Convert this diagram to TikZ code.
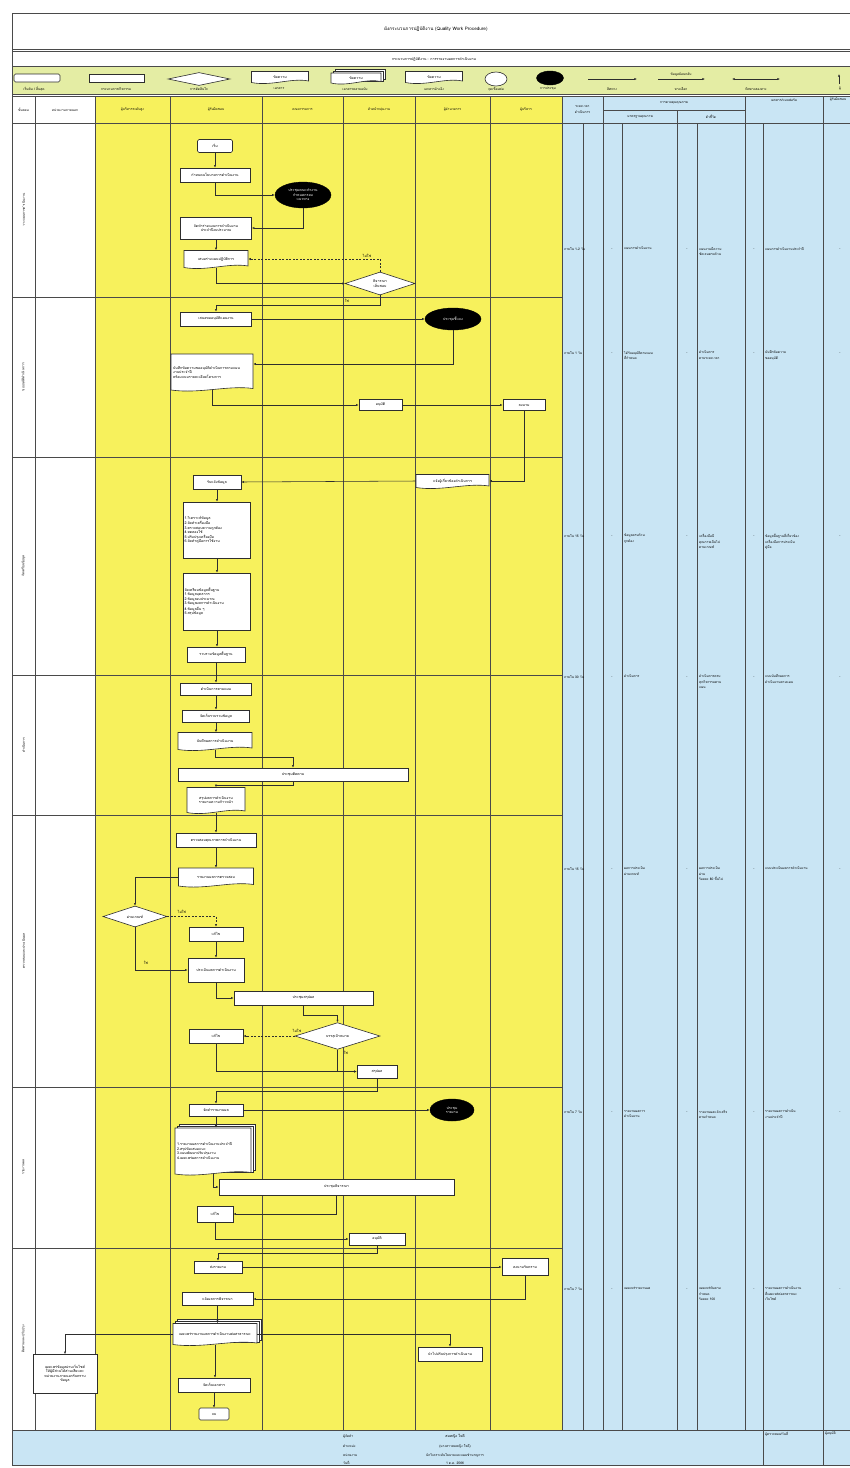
\documentclass[tikz,border=0pt]{standalone}
\usepackage{fontspec}
\setmainfont[Script=Thai]{Loma}
\usetikzlibrary{arrows.meta,shapes.geometric,calc}
\definecolor{ylw}{HTML}{F7F15C}
\definecolor{blu}{HTML}{C9E5F4}
\definecolor{lgd}{HTML}{E4EDA4}
\definecolor{linec}{HTML}{2E2E2E}
\definecolor{gridc}{HTML}{4A4A4A}
\newcommand\fsz{\fontsize{3.6}{4.5}\selectfont}
\newcommand\fsb{\fontsize{3.3}{5.4}\selectfont}
\newcommand\fst{\fontsize{4.6}{5.5}\selectfont}
\tikzset{
  tline/.style={draw=gridc, line width=0.5pt},
  tthick/.style={draw=gridc, line width=0.9pt},
  box/.style={draw=linec, fill=white, line width=0.6pt, inner sep=1pt, font=\fsz, align=center},
  rbox/.style={box, rounded corners=1.5pt},
  lbox/.style={box, align=left},
  shp/.style={draw=linec, fill=white, line width=0.6pt},
  txt/.style={inner sep=1pt, font=\fsz, align=center},
  meet/.style={ellipse, fill=black, draw=black, text=white, inner sep=0pt, font=\fsz, align=center},
  dec/.style={diamond, draw=linec, fill=white, line width=0.6pt, inner sep=0pt, font=\fsz, align=center},
  arr/.style={draw=linec, line width=0.55pt, -{Latex[length=2.6pt,width=2.2pt]}},
  darr/.style={arr, dash pattern=on 2pt off 1.5pt},
  elab/.style={inner sep=0.5pt, font=\fsz},
  btxt/.style={inner sep=0pt, font=\fsb, align=left, anchor=north west},
  htxt/.style={inner sep=0pt, font=\fsb, align=center},
  ltxt/.style={inner sep=0pt, font=\fsb},
}
% document shape: [opts]{name}{cx}{cy}{w}{h}{text}
\newcommand\docnode[7][]{%
  \draw[shp] ({#3-#5/2},{#4-#6/2}) -- ({#3+#5/2},{#4-#6/2}) -- ({#3+#5/2},{#4+#6/2-1.5})
    .. controls ({#3+#5/2-0.3*#5},{#4+#6/2-5}) and ({#3-#5/2+0.35*#5},{#4+#6/2+4}) .. ({#3-#5/2},{#4+#6/2}) -- cycle;
  \node[txt,minimum width=#5pt,minimum height=#6pt,#1] (#2) at (#3,#4) {#7};}
\newcommand\mdocnode[7][]{%
  \draw[shp] ({#3-#5/2+4},{#4-#6/2-4}) rectangle ({#3+#5/2+4},{#4+#6/2-4});
  \draw[shp] ({#3-#5/2+2},{#4-#6/2-2}) rectangle ({#3+#5/2+2},{#4+#6/2-2});
  \docnode[#1]{#2}{#3}{#4}{#5}{#6}{#7}}
\begin{document}
\begin{tikzpicture}[x=1pt,y=-1pt]
\useasboundingbox (0,0) rectangle (850,1468);
\fill[white] (0,0) rectangle (850,1468);
% ---------- backgrounds ----------
\fill[lgd] (12,66) rectangle (850,94);
\fill[ylw] (95,96) rectangle (562,1430);
\fill[blu] (562,96) rectangle (850,1430);
\fill[blu] (12,1430) rectangle (850,1465);
% ---------- frame lines ----------
\draw[tthick] (12,13) -- (850,13);
\draw[tthick] (12,49) -- (850,49);
\draw[tline] (12,51) -- (850,51);
\draw[tthick] (12,66) -- (850,66);
\draw[tthick] (12,94) -- (850,94);
\draw[tline] (12,96) -- (850,96);
\draw[tthick] (12,123) -- (850,123);
\draw[tthick] (12,13) -- (12,1465);
\draw[tthick] (12,1465) -- (850,1465);
\draw[tthick] (12,1430) -- (850,1430);
\foreach \yy in {297,457,675,815,1087,1248}{\draw[tline] (12,\yy) -- (562,\yy);}
\foreach \xx in {35,95,170,262,343,415,490,562,603,745}{\draw[tline] (\xx,96) -- (\xx,1430);}
\draw[tline] (823,96) -- (823,1465);
\draw[tline] (763,123) -- (763,1465);
\foreach \xx in {583,622,697}{\draw[tline] (\xx,123) -- (\xx,1430);}
\draw[tline] (677,110) -- (677,1430);
\draw[tline] (603,110) -- (745,110);
% ---------- title ----------
\node[inner sep=0pt, font=\fst] (title) at (436,29) {ผังกระบวนการปฏิบัติงาน (Quality Work Procedure)};
\node[inner sep=0pt, font=\fsz] (subtitle) at (434,59) {กระบวนการปฏิบัติงาน : การรายงานผลการดำเนินงาน};
% ---------- legend ----------
\node[rbox, minimum width=46pt, minimum height=8pt] (L1) at (37,78) {};
\node[box, minimum width=55pt, minimum height=8pt] (L2) at (116.5,78) {};
\node[dec, minimum width=62pt, minimum height=13pt] (L3) at (199,79) {};
\docnode{L4}{280}{77}{57}{11}{ข้อความ}
\mdocnode{L5}{356}{78}{50}{10}{ข้อความ}
\docnode{L6}{434}{77}{57}{11}{ข้อความ}
\node[draw=linec, fill=white, line width=0.6pt, ellipse, minimum width=22pt, minimum height=14pt] (L7) at (496,79) {};
\node[meet, minimum width=27pt, minimum height=14pt] (L8) at (550,78) {};
\coordinate (La1) at (588,79); \coordinate (La2) at (637,79);
\draw[arr] (La1) -- (La2);
\coordinate (Lb1) at (658,79); \coordinate (Lb2) at (705,79);
\draw[arr] (Lb1) -- (Lb2);
\node[ltxt] (Lbt) at (681,75) {ข้อมูลย้อนกลับ};
\coordinate (Lc1) at (732,79); \coordinate (Lc2) at (780,79);
\draw[draw=linec, line width=0.55pt, {Latex[length=2.6pt,width=2.2pt]}-{Latex[length=2.6pt,width=2.2pt]}] (Lc1) -- (Lc2);
\coordinate (Ld1) at (839,84); \coordinate (Ld2) at (839,74);
\draw[arr] (Ld1) -- (Ld2);
\node[ltxt] (Lt1) at (34,89) {เริ่มต้น / สิ้นสุด};
\node[ltxt] (Lt2) at (116,89) {กระบวนการ/กิจกรรม};
\node[ltxt] (Lt3) at (199,89) {การตัดสินใจ};
\node[ltxt] (Lt4) at (279,89) {เอกสาร};
\node[ltxt] (Lt5) at (355,89) {เอกสารหลายฉบับ};
\node[ltxt] (Lt6) at (434,89) {เอกสารอ้างอิง};
\node[ltxt] (Lt7) at (496,89) {จุดเชื่อมต่อ};
\node[ltxt] (Lt8) at (548,89) {การประชุม};
\node[ltxt] (Lt9) at (612,89) {ทิศทาง};
\node[ltxt] (Lt10) at (681,89) {ทางเลือก};
\node[ltxt] (Lt11) at (756,89) {ทิศทางสองทาง};
\node[ltxt] (Lt12) at (840,89) {ผู้};
% ---------- header ----------
\node[htxt] (h1) at (23.5,110) {ขั้นตอน};
\node[htxt] (h2) at (65,110) {หน่วยงานภายนอก};
\node[htxt] (h3) at (132.5,110) {ผู้บริหารระดับสูง};
\node[htxt] (h4) at (216,110) {ผู้รับผิดชอบ};
\node[htxt] (h5) at (302.5,110) {คณะกรรมการ};
\node[htxt] (h6) at (379,110) {หัวหน้ากลุ่มงาน};
\node[htxt] (h7) at (452.5,110) {ผู้อำนวยการ};
\node[htxt] (h8) at (526,110) {ผู้บริหาร};
\node[htxt] (h9) at (582.5,109.5) {ระยะเวลา\\ดำเนินการ};
\node[htxt] (h10) at (674,103) {การควบคุมคุณภาพ};
\node[htxt] (h11) at (640,116.5) {มาตรฐานคุณภาพ};
\node[htxt] (h12) at (711,116.5) {ตัวชี้วัด};
\node[htxt] (h13) at (784,100) {เอกสาร/แบบฟอร์ม};
\node[htxt] (h14) at (838,100) {ผู้รับผิดชอบ};
% ---------- phase labels ----------
\node[htxt, rotate=90] (p1) at (23.5,210) {วางแผนการดำเนินงาน};
\node[htxt, rotate=90] (p2) at (23.5,377) {ขออนุมัติดำเนินการ};
\node[htxt, rotate=90] (p3) at (23.5,566) {จัดเตรียมข้อมูล};
\node[htxt, rotate=90] (p4) at (23.5,745) {ดำเนินการ};
\node[htxt, rotate=90] (p5) at (23.5,951) {ตรวจสอบและประเมินผล};
\node[htxt, rotate=90] (p6) at (23.5,1167) {รายงานผล};
\node[htxt, rotate=90] (p7) at (23.5,1339) {ติดตามและปรับปรุง};
% ================= PHASE 1 =================
\node[rbox, minimum width=35pt, minimum height=13pt] (s1) at (215,146) {เริ่ม};
\node[box, minimum width=70pt, minimum height=14pt] (b1) at (215,175) {กำหนดนโยบายการดำเนินงาน};
\node[meet, minimum width=56pt, minimum height=26pt] (e1) at (303,195) {ประชุมคณะทำงาน\\กำหนดกรอบ\\แนวทาง};
\node[box, minimum width=71pt, minimum height=22pt] (b2) at (216,228) {จัดทำร่างแผนการดำเนินงาน\\ประจำปีงบประมาณ};
\docnode{d1}{216}{259}{64}{17}{เสนอร่างแผนปฏิบัติการ}
\node[dec, minimum width=70pt, minimum height=23pt] (q1) at (380,283.5) {พิจารณา\\เห็นชอบ};
% ================= PHASE 2 =================
\node[box, minimum width=71pt, minimum height=14pt] (b3) at (216,319) {เสนอขออนุมัติแผนงาน};
\node[meet, minimum width=56pt, minimum height=22pt] (e2) at (453,319) {ประชุมชี้แจง};
\docnode[align=left, text width=78pt, anchor=center]{d2}{212}{372}{82}{36}{บันทึกข้อความขออนุมัติดำเนินการตามแผน\\งานประจำปี\\พร้อมแนบรายละเอียดโครงการ\\[5pt]}
\node[box, minimum width=43pt, minimum height=11pt] (b4) at (380.5,405) {อนุมัติ};
\node[box, minimum width=42pt, minimum height=11pt] (b5) at (524,405) {ลงนาม};
% ================= PHASE 3 =================
\docnode{d3}{452.5}{481}{73}{13}{แจ้งผู้เกี่ยวข้องดำเนินการ}
\node[box, minimum width=48pt, minimum height=14pt] (b6) at (217,482) {รับแจ้งข้อมูล};
\node[lbox, minimum height=56pt, text width=65pt, anchor=center] (b7) at (217,530) {1.วิเคราะห์ข้อมูล\\2.จัดทำเครื่องมือ\\3.ตรวจสอบความถูกต้อง\\4.ทดลองใช้\\5.ปรับปรุงเครื่องมือ\\6.จัดทำคู่มือการใช้งาน};
\node[lbox, minimum height=57pt, text width=65pt, anchor=center] (b8) at (217,601.5) {จัดเตรียมข้อมูลพื้นฐาน\\1.ข้อมูลบุคลากร\\2.ข้อมูลงบประมาณ\\3.ข้อมูลผลการดำเนินงาน\\4.ข้อมูลอื่น ๆ\\5.สรุปข้อมูล};
\node[box, minimum width=58pt, minimum height=15pt] (b9) at (216,654.5) {รวบรวมข้อมูลพื้นฐาน};
% ================= PHASE 4 =================
\node[box, minimum width=71pt, minimum height=12pt] (b10) at (216,689) {ดำเนินการตามแผน};
\node[box, minimum width=67pt, minimum height=12pt] (b11) at (216,716) {จัดเก็บรวบรวมข้อมูล};
\docnode{d4}{215}{741}{74}{17}{บันทึกผลการดำเนินงาน}
\node[box, minimum width=230pt, minimum height=13pt] (w1) at (293,774.5) {ประชุมติดตาม};
\docnode{d5}{216}{800}{58}{25}{สรุปผลการดำเนินงาน\\รายงานความก้าวหน้า}
% ================= PHASE 5 =================
\node[box, minimum width=80pt, minimum height=14pt] (b12) at (216,840) {ตรวจสอบคุณภาพการดำเนินงาน};
\docnode{d6}{216}{877}{75}{18}{รายงานผลการตรวจสอบ}
\node[dec, minimum width=64pt, minimum height=21pt] (q2) at (135,916.5) {ผ่านเกณฑ์};
\node[box, minimum width=54pt, minimum height=14pt] (b13) at (216,934) {แก้ไข};
\node[box, minimum width=56pt, minimum height=24pt] (b14) at (216,970) {ประเมินผลการดำเนินงาน};
\node[box, minimum width=139pt, minimum height=14pt] (w2) at (303.5,998) {ประชุมสรุปผล};
\node[dec, minimum width=85pt, minimum height=22pt] (q3) at (337.5,1036) {บรรลุเป้าหมาย};
\node[box, minimum width=54pt, minimum height=14pt] (b15) at (216,1036) {แก้ไข};
\node[box, minimum width=40pt, minimum height=13pt] (b16) at (377,1071.5) {สรุปผล};
% ================= PHASE 6 =================
\node[box, minimum width=54pt, minimum height=12pt] (b17) at (216,1110) {จัดทำรายงานผล};
\node[meet, minimum width=44pt, minimum height=22pt] (e3) at (452,1110) {ประชุม\\รายงาน};
\mdocnode[align=left, text width=72pt]{md1}{213}{1151}{76}{46}{1.รายงานผลการดำเนินงานประจำปี\\2.สรุปข้อเสนอแนะ\\3.แผนพัฒนาปรับปรุงงาน\\4.เผยแพร่ผลการดำเนินงาน}
\node[box, minimum width=235pt, minimum height=16pt] (w3) at (336.5,1187) {ประชุมพิจารณา};
\node[box, minimum width=36pt, minimum height=16pt] (b18) at (215,1214) {แก้ไข};
\node[box, minimum width=56pt, minimum height=12pt] (b19) at (377,1239) {อนุมัติ};
% ================= PHASE 7 =================
\node[box, minimum width=48pt, minimum height=12pt] (b20) at (218,1267) {ส่งรายงาน};
\node[box, minimum width=46pt, minimum height=17pt] (b21) at (525,1267) {ลงนามรับทราบ};
\node[box, minimum width=71pt, minimum height=13pt] (b22) at (217.5,1299) {แจ้งผลการพิจารณา};
\mdocnode{md2}{215}{1334}{84}{21}{เผยแพร่รายงานผลการดำเนินงานต่อสาธารณะ}
\node[box, minimum width=64pt, minimum height=39pt] (b23) at (65,1374) {เผยแพร่ข้อมูลผ่านเว็บไซต์\\ให้ผู้มีส่วนได้ส่วนเสียและ\\หน่วยงานภายนอกรับทราบ\\ข้อมูล};
\node[box, minimum width=64pt, minimum height=14pt] (b24) at (450,1354) {นำไปปรับปรุงการดำเนินงาน};
\node[box, minimum width=72pt, minimum height=14pt] (b25) at (214,1385) {จัดเก็บเอกสาร};
\node[rbox, minimum width=30pt, minimum height=12pt] (end) at (214,1414) {จบ};
% ================= CONNECTORS =================
\draw[arr] (s1.south) -- (s1.south |- b1.north);
\draw[arr] (b1.south) |- (e1.west);
\draw[arr] (e1.south) |- (b2.east);
\draw[arr] (b2.south) -- (b2.south |- d1.north);
\draw[arr] (d1.south) |- (q1.west);
\draw[darr] (q1.north) |- (d1.east);
\node[elab] (q1n) at (367,256) {ไม่ใช่};
\draw[arr] (q1.south) -- ++(0,10) -| (b3.north);
\node[elab] (q1y) at (347,301) {ใช่};
\draw[arr] (b3.east) -- (e2.west);
\draw[arr] (e2.south) |- ([yshift=8pt]d2.east);
\draw[arr] (d2.south) |- (b4.west);
\draw[arr] (b4.east) -- (b5.west);
\draw[arr] (b5.south) |- (d3.east);
\draw[arr] (d3.west) -- (b6.east);
\draw[arr] (b6.south) -- (b6.south |- b7.north);
\draw[arr] (b7.south) -- (b7.south |- b8.north);
\draw[arr] (b8.south) -- (b8.south |- b9.north);
\draw[arr] (b9.south) -- (b9.south |- b10.north);
\draw[arr] (b10.south) -- (b10.south |- b11.north);
\draw[arr] (b11.south) -- (b11.south |- d4.north);
\draw[arr] (d4.south) -- ++(0,8) -| (w1.north);
\draw[arr] (w1.south) -- ++(0,4) -| (d5.north);
\draw[arr] (d5.south) -- (d5.south |- b12.north);
\draw[arr] (b12.south) -- (b12.south |- d6.north);
\draw[arr] (d6.west) -| (q2.north);
\draw[darr] (q2.east) -| (b13.north);
\node[elab] (q2n) at (182,912) {ไม่ใช่};
\draw[arr] (q2.south) |- (b14.west);
\node[elab] (q2y) at (146,963) {ใช่};
\draw[arr] (b13.south) -- (b13.south |- b14.north);
\draw[arr] (b14.south) |- (w2.west);
\draw[arr] (w2.south) -- ++(0,10) -| (q3.north);
\draw[darr] (q3.west) -- (b15.east);
\node[elab] (q3n) at (297,1031) {ไม่ใช่};
\draw[arr] (q3.south) |- (b16.west);
\node[elab] (q3y) at (346,1053) {ใช่};
\draw[arr] (b15.south) |- (b16.west);
\draw[arr] (b16.south) -- ++(0,13) -| (b17.north);
\draw[arr] (b17.east) -- (e3.west);
\draw[arr] (b17.south) -- (b17.south |- md1.north);
\draw[arr] (md1.south) |- (w3.west);
\draw[arr] (w3.south) |- (b18.east);
\draw[arr] (b18.south) |- (b19.west);
\draw[arr] (b19.south) -- ++(0,8) -| (b20.north);
\draw[arr] (b20.east) -- (b21.west);
\draw[arr] (b21.south) |- (b22.east);
\draw[arr] (b22.south) -- (b22.south |- md2.north);
\draw[arr] (md2.west) -| (b23.north);
\draw[arr] (md2.east) -| (b24.north);
\draw[arr] (md2.south) -- (md2.south |- b25.north);
\draw[arr] (b25.south) -- (b25.south |- end.north);
% ================= BLUE COLUMNS =================
% phase 1
\node[btxt] (t1a) at (564,247) {ภายใน 1-2 วัน};
\node[btxt] (t1b) at (624,247) {แผนการดำเนินงาน};
\node[btxt] (t1c) at (699,247) {แผนงานมีความ\\ชัดเจนครบถ้วน};
\node[btxt] (t1d) at (765,247) {แผนการดำเนินงานประจำปี};
% phase 2
\node[btxt] (t2a) at (564,351) {ภายใน 1 วัน};
\node[btxt] (t2b) at (624,351) {ได้รับอนุมัติตามแผน\\ที่กำหนด};
\node[btxt] (t2c) at (699,351) {ดำเนินการ\\ตามระยะเวลา};
\node[btxt] (t2d) at (765,351) {บันทึกข้อความ\\ขออนุมัติ};
% phase 3
\node[btxt] (t3a) at (564,534) {ภายใน 15 วัน};
\node[btxt] (t3b) at (624,534) {ข้อมูลครบถ้วน\\ถูกต้อง};
\node[btxt] (t3c) at (699,534) {เครื่องมือมี\\คุณภาพเป็นไป\\ตามเกณฑ์};
\node[btxt] (t3d) at (765,534) {ข้อมูลพื้นฐานที่เกี่ยวข้อง\\เครื่องมือการประเมิน\\คู่มือ};
% phase 4
\node[btxt] (t4a) at (564,675) {ภายใน 30 วัน};
\node[btxt] (t4b) at (624,675) {ดำเนินการ};
\node[btxt] (t4c) at (699,675) {ดำเนินการครบ\\ทุกกิจกรรมตาม\\แผน};
\node[btxt] (t4d) at (765,675) {แบบบันทึกผลการ\\ดำเนินงานตามแผน};
% phase 5
\node[btxt] (t5a) at (564,867) {ภายใน 15 วัน};
\node[btxt] (t5b) at (624,867) {ผลการประเมิน\\ผ่านเกณฑ์};
\node[btxt] (t5c) at (699,867) {ผลการประเมิน\\ผ่าน\\ร้อยละ 80 ขึ้นไป};
\node[btxt] (t5d) at (765,867) {แบบประเมินผลการดำเนินงาน};
% phase 6
\node[btxt] (t6a) at (564,1110) {ภายใน 7 วัน};
\node[btxt] (t6b) at (624,1110) {รายงานผลการ\\ดำเนินงาน};
\node[btxt] (t6c) at (699,1110) {รายงานผลแล้วเสร็จ\\ตามกำหนด};
\node[btxt] (t6d) at (765,1110) {รายงานผลการดำเนิน\\งานประจำปี};
% phase 7
\node[btxt] (t7a) at (564,1287) {ภายใน 7 วัน};
\node[btxt] (t7b) at (624,1287) {เผยแพร่รายงานผล};
\node[btxt] (t7c) at (699,1287) {เผยแพร่ทันตาม\\กำหนด\\ร้อยละ 100};
\node[btxt] (t7d) at (765,1287) {รายงานผลการดำเนินงาน\\ที่เผยแพร่ต่อสาธารณะ\\เว็บไซต์};
% dashes in narrow columns
\foreach \yy/\k in {249/1,353/2,536/3,677/4,869/5,1112/6,1289/7}{
  \node[ltxt] (da\k) at (612,\yy) {-};
  \node[ltxt] (db\k) at (687,\yy) {-};
  \node[ltxt] (dc\k) at (754,\yy) {-};
  \node[ltxt] (dd\k) at (840,\yy) {-};
}
% ================= FOOTER =================
\node[ltxt, anchor=west] (f1) at (343,1437) {ผู้จัดทำ};
\node[ltxt, anchor=west] (f2) at (343,1446) {ตำแหน่ง};
\node[ltxt, anchor=west] (f3) at (343,1455) {หน่วยงาน};
\node[ltxt, anchor=west] (f4) at (343,1463) {วันที่};
\node[inner sep=0pt, font=\fsz] (g1) at (455,1436) {สมหญิง ใจดี};
\node[ltxt] (g2) at (455,1446) {(นางสาวสมหญิง ใจดี)};
\node[ltxt] (g3) at (455,1455) {นักวิเคราะห์นโยบายและแผนชำนาญการ};
\node[ltxt] (g4) at (455,1463) {1 ต.ค. 2566};
\node[ltxt, anchor=west] (f5) at (765,1434) {ผู้ตรวจสอบ/วันที่};
\node[ltxt, anchor=west] (f6) at (825,1434) {ผู้อนุมัติ};
\end{tikzpicture}
\end{document}
